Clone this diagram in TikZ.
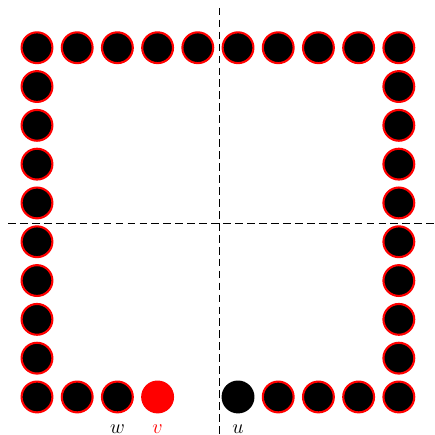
\documentclass[tikz,border=0pt]{standalone}
\usepackage{amsmath}
\usepackage{xcolor}
\usepackage{tikz}
\usetikzlibrary{positioning}

\begin{document}
\begin{tikzpicture}[
  x=1.005cm, y=0.97cm,
  vtx/.style={circle, draw=red, fill=black, line width=1.5pt, minimum size=0.77cm, inner sep=0pt},
  redV/.style={vtx, draw=red, fill=red},
  blackV/.style={vtx, draw=black},
  lbl/.style={font=\fontsize{13.5}{16}\selectfont, inner sep=0pt},
  axis/.style={dash pattern=on 5.5pt off 3pt, line width=0.6pt}
]
\useasboundingbox (-0.92,-0.98) rectangle (9.88,10.23);

% quadrant lines
\draw[axis] (4.53,10.03) -- (4.53,-0.98);
\draw[axis] (-0.72,4.46) -- (9.88,4.46);

% top row
\foreach \i in {0,...,9}
  \node[vtx] (t\i) at (\i,9) {};
% left and right columns
\foreach \j in {0,...,8} {
  \node[vtx] (l\j) at (0,\j) {};
  \node[vtx] (r\j) at (9,\j) {};
}
% bottom row
\foreach \i in {1,2,6,7,8}
  \node[vtx] (b\i) at (\i,0) {};
\node[redV] (b3) at (3,0) {};
\node[blackV] (b5) at (5,0) {};

\node[lbl, below=0.27cm of b2] (w) {$w$};
\node[lbl, below=0.27cm of b3, text=red] (v) {$v$};
\node[lbl, below=0.27cm of b5] (u) {$u$};
\end{tikzpicture}
\end{document}
